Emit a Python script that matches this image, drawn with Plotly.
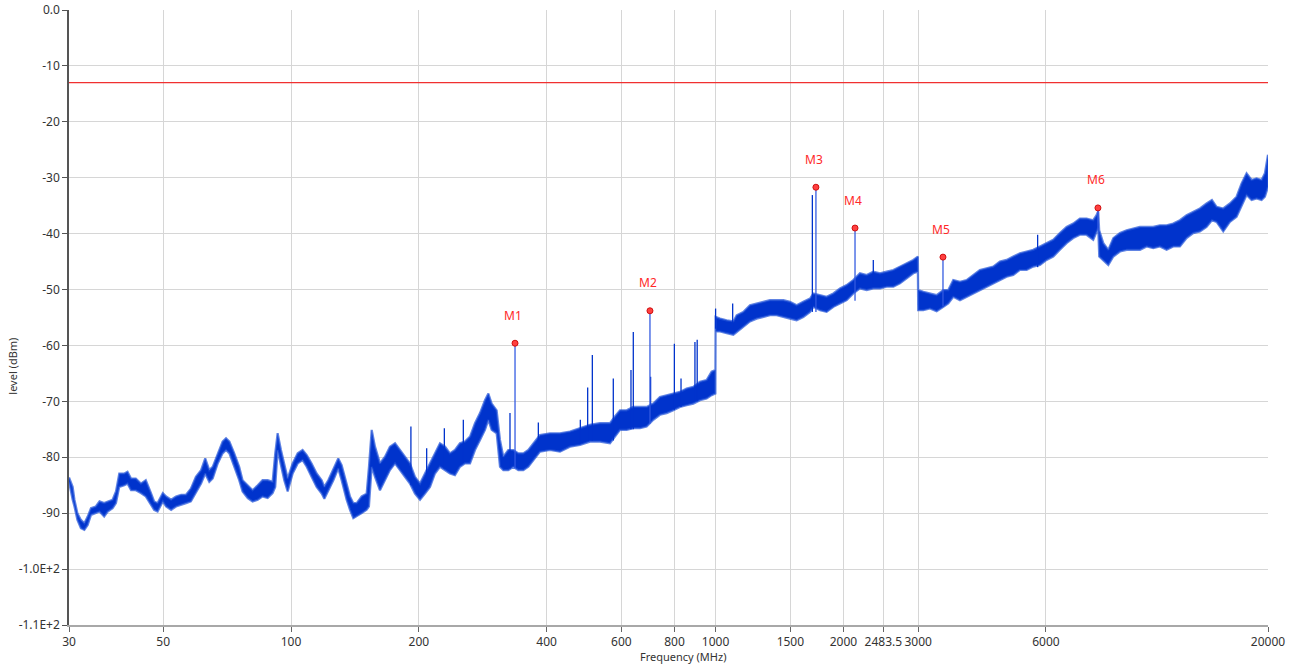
import math
import plotly.graph_objects as go

# ---------------- data ----------------
# noise-band envelope of the measured spectrum: frequency (MHz), top and bottom level (dBm)
freq_mhz = [
    30.0, 30.6, 30.9, 31.4, 32.0, 32.6, 33.2, 33.8, 34.7, 35.4, 36.3, 37.0, 38.0, 38.7, 39.4,
    40.5, 41.2, 42.0, 43.1, 44.3, 45.5, 46.8, 47.6, 48.5, 49.9, 50.8, 52.2, 53.6, 55.1, 56.6,
    58.1, 59.7, 61.4, 62.8, 64.2, 65.4, 67.2, 69.0, 70.3, 71.6, 73.5, 75.5, 76.9, 79.1, 81.2,
    83.5, 85.7, 88.1, 90.5, 91.8, 93.0, 94.7, 96.4, 98.2, 100.9, 103.7, 106.5,
    108.9, 111.8, 114.9, 118.1, 119.8, 122.4, 125.8, 129.2, 131.6, 135.2, 137.7, 140.2, 142.8,
    146.7, 150.7, 152.6, 154.9, 157.7, 162.0, 166.5, 171.0, 175.8, 180.6, 185.5, 190.6, 195.9,
    201.3, 206.8, 212.5, 218.3, 224.3, 230.5, 236.8, 243.3, 250.0, 256.9, 264.0, 271.2, 278.7,
    286.3, 291.6, 296.9, 305.0, 310.6, 316.3, 324.9, 333.9, 343.1, 352.5, 362.2,
    385.8, 407.3, 430.0, 454.0, 479.3, 506.0, 534.2, 563.9, 579.4, 595.4, 617.3, 640.0, 663.5,
    688.0, 713.4, 739.6, 766.8, 795.1, 824.3, 854.6, 886.1, 918.7, 952.5, 978.7, 999.0,
    1000, 1024, 1062, 1101, 1121, 1162, 1205, 1249, 1295, 1343, 1392, 1444, 1497, 1552, 1609,
    1669, 1699, 1762, 1826, 1894, 1963, 2036, 2110, 2188, 2269, 2352, 2439, 2529, 2622, 2718,
    2818, 2922, 2995,
    3000, 3085, 3198, 3316, 3438, 3532, 3629, 3763, 3901, 4045, 4193, 4348, 4508, 4674, 4846,
    5024, 5209, 5401, 5599, 5806, 6019, 6241, 6470, 6708, 6955, 7211, 7477, 7752, 7893, 7964,
    8008, 8187, 8412, 8644, 8962, 9291, 9633, 9987, 10355, 10735, 11130, 11540, 11964, 12404,
    12860, 13333, 13824, 14332, 14756, 15132, 15690, 16267, 16867, 17330, 17806, 18296, 18799,
    19316, 19668, 20000,
]
level_top = [
    -83.6, -85.3, -87.6, -90.0, -91.2, -91.8, -90.6, -89.1, -88.8, -87.9, -88.2, -87.9, -87.6, -86.1, -82.9,
    -82.9, -82.6, -83.8, -83.8, -84.7, -84.1, -86.4, -87.9, -88.2, -86.4, -87.0, -87.6, -87.0, -86.7, -86.7,
    -85.6, -83.5, -82.3, -80.2, -82.3, -81.7, -79.3, -77.2, -76.6, -77.2, -79.3, -81.7, -84.1, -85.0, -85.9,
    -85.0, -84.1, -84.1, -84.4, -79.3, -75.7, -78.7, -81.1, -83.8, -81.1, -79.3, -78.7,
    -79.6, -81.1, -82.9, -84.1, -85.3, -84.1, -82.0, -80.2, -81.4, -84.7, -87.0, -88.2, -88.2,
    -87.0, -86.5, -81.7, -75.1, -78.1, -81.1, -79.9, -78.1, -77.5, -78.7, -79.9, -81.1, -83.5,
    -84.7, -82.9, -81.1, -79.3, -77.5, -78.1, -79.3, -78.7, -77.5, -77.2, -76.3, -73.9, -72.1,
    -69.8, -68.6, -70.4, -71.6, -76.9, -79.9, -78.7, -78.7, -79.3, -79.3, -78.7,
    -76.0, -75.7, -75.7, -75.4, -74.8, -74.2, -73.9, -73.9, -72.7, -71.6, -71.6, -71.0, -71.0,
    -71.0, -70.4, -69.2, -68.9, -68.6, -68.3, -67.7, -67.4, -66.5, -66.2, -64.7, -64.4,
    -54.9, -55.2, -55.5, -55.7, -54.6, -54.0, -52.8, -52.5, -52.2, -51.9, -51.9, -51.9, -52.2, -52.8, -52.2,
    -51.6, -50.7, -51.0, -51.3, -50.7, -49.8, -49.2, -48.3, -47.1, -47.4, -46.8, -47.1, -46.8, -46.5, -45.9,
    -45.3, -44.7, -44.1,
    -50.1, -50.4, -50.7, -51.0, -50.1, -50.1, -48.3, -48.6, -48.3, -47.4, -46.5, -46.2, -45.9, -45.0, -44.7,
    -44.1, -43.5, -43.2, -42.9, -42.3, -41.7, -41.1, -39.9, -38.8, -38.2, -37.3, -37.3, -37.6, -36.7, -36.0,
    -39.4, -41.7, -42.9, -40.8, -39.9, -39.4, -39.1, -38.8, -38.8, -38.8, -38.5, -38.5, -38.2, -37.6,
    -36.7, -36.1, -35.5, -34.6, -34.0, -35.2, -35.5, -34.6, -33.4, -31.0, -29.2, -30.4, -30.1,
    -30.4, -29.2, -25.9,
]
level_bottom = [
    -84.4, -87.6, -88.8, -91.2, -92.7, -93.0, -92.1, -90.3, -90.0, -89.7, -90.6, -89.7, -89.1, -88.2, -85.3,
    -85.0, -84.7, -85.9, -85.9, -86.4, -87.0, -88.5, -89.4, -89.7, -87.9, -88.8, -89.4, -88.8, -88.5, -88.2,
    -87.9, -86.4, -84.7, -82.9, -84.4, -83.8, -81.1, -79.3, -78.7, -79.3, -81.7, -84.1, -86.1, -87.3, -87.9,
    -87.6, -87.0, -87.3, -86.4, -85.3, -78.7, -81.1, -84.1, -86.1, -82.9, -81.1, -80.5,
    -81.7, -83.5, -85.3, -86.5, -87.4, -85.9, -84.1, -82.0, -84.1, -87.6, -89.4, -90.9, -90.6,
    -90.0, -89.4, -88.8, -81.7, -83.5, -85.9, -84.1, -82.3, -81.1, -82.3, -83.5, -84.7, -86.5,
    -87.6, -86.5, -85.3, -82.9, -81.7, -82.3, -82.9, -83.2, -81.7, -81.1, -81.1, -78.7, -76.9,
    -75.1, -73.3, -75.1, -75.7, -81.7, -82.3, -82.3, -81.7, -82.3, -82.3, -81.7,
    -79.0, -78.7, -79.0, -78.1, -77.8, -77.2, -77.2, -77.5, -76.3, -75.1, -75.1, -74.8, -74.8,
    -74.5, -73.3, -72.4, -72.1, -71.6, -71.0, -70.7, -70.4, -69.8, -69.5, -68.9, -68.6,
    -57.5, -57.5, -57.8, -58.1, -57.5, -56.6, -55.7, -55.2, -54.9, -54.6, -54.6, -54.9, -55.2, -55.5, -54.9,
    -54.0, -53.1, -53.7, -54.0, -53.1, -52.5, -51.9, -50.7, -49.8, -50.1, -49.8, -49.8, -49.5, -49.5, -48.9,
    -48.0, -47.1, -46.8,
    -53.7, -53.7, -53.4, -53.9, -53.1, -52.5, -51.3, -51.9, -51.3, -50.7, -50.1, -49.5, -48.9, -48.3, -47.7,
    -47.4, -46.5, -46.5, -45.9, -45.6, -44.7, -44.1, -42.9, -41.7, -40.8, -40.2, -40.2, -41.1, -39.7, -39.0,
    -44.1, -44.7, -45.6, -44.1, -43.2, -42.9, -42.9, -42.9, -42.3, -42.6, -42.3, -42.9, -42.3, -42.3,
    -40.8, -39.9, -39.6, -38.8, -37.6, -37.9, -39.6, -37.9, -37.0, -34.9, -33.1, -34.0, -33.7,
    -34.0, -33.4, -31.6,
]

# narrow spurious spikes: frequency (MHz), peak level, level of the noise floor below
spike_freq = [191.6, 208.7, 229.7, 254.6, 327.9, 382.4, 480.2, 499.7, 512.5, 574.2, 632.0, 640.0,
              703.0, 799.6, 829.0, 894.0, 905.0, 1000.0, 1097.0, 1690.0, 2352.0, 5734.0]
spike_peak = [-74.5, -78.4, -74.8, -73.3, -72.1, -73.8, -73.3, -67.5, -61.7, -65.9, -64.4, -57.6,
              -65.6, -59.7, -65.9, -59.4, -59.0, -53.4, -52.5, -33.1, -44.7, -40.2]
spike_floor = [-85.0, -85.0, -82.0, -81.0, -82.0, -78.0, -77.5, -77.0, -77.0, -77.0, -75.0, -75.0,
               -73.5, -71.5, -71.0, -70.0, -70.0, -57.0, -57.0, -54.0, -49.0, -46.0]

# markers
marker_names = ["M1", "M2", "M3", "M4", "M5", "M6"]
marker_freq = [337.0, 700.5, 1723.0, 2130.0, 3432.0, 7953.0]
marker_level = [-59.6, -53.8, -31.7, -39.0, -44.2, -35.4]
marker_floor = [-82.0, -74.0, -54.0, -52.0, -53.0, -39.5]

# limit line
limit_level = -13.0
freq_range = [30, 20000]

# axes ticks
x_tickvals = [30, 50, 100, 200, 400, 600, 800, 1000, 1500, 2000, 2483.5, 3000, 6000, 20000]
x_ticktext = ["30", "50", "100", "200", "400", "600", "800", "1000", "1500", "2000", "2483.5",
              "3000", "6000", "20000"]
y_tickvals = [0, -10, -20, -30, -40, -50, -60, -70, -80, -90, -100, -110]
y_ticktext = ["0.0", "-10", "-20", "-30", "-40", "-50", "-60", "-70", "-80", "-90",
              "-1.0E+2", "-1.1E+2"]

# ---------------- figure ----------------
BLUE = "#0033CC"
FONT = "Segoe UI, Noto Sans, Open Sans, sans-serif"

fig = go.Figure()

# noise band polygon
fig.add_trace(go.Scatter(
    x=freq_mhz + freq_mhz[::-1],
    y=level_top + level_bottom[::-1],
    mode="lines", fill="toself", fillcolor=BLUE,
    line=dict(color="rgba(30,80,215,0.7)", width=2.2),
    hoverinfo="skip", showlegend=False,
))

# spikes
sx, sy = [], []
for f, p, b in zip(spike_freq, spike_peak, spike_floor):
    sx += [f, f, None]
    sy += [b, p, None]
fig.add_trace(go.Scatter(x=sx, y=sy, mode="lines",
                         line=dict(color=BLUE, width=1.3),
                         hoverinfo="skip", showlegend=False))

# marker stems (lighter)
mx, my = [], []
for f, p, b in zip(marker_freq, marker_level, marker_floor):
    mx += [f, f, None]
    my += [b, p, None]
fig.add_trace(go.Scatter(x=mx, y=my, mode="lines",
                         line=dict(color="rgba(50,90,225,0.8)", width=1.6),
                         hoverinfo="skip", showlegend=False))

# limit line
fig.add_trace(go.Scatter(x=freq_range, y=[limit_level, limit_level], mode="lines",
                         line=dict(color="#F03030", width=1.2),
                         hoverinfo="skip", showlegend=False))

# marker points with labels
fig.add_trace(go.Scatter(
    x=marker_freq, y=marker_level, mode="markers",
    marker=dict(size=6, color="#FF4040", line=dict(color="#D01010", width=1)),
    showlegend=False,
))
for name, f, lv in zip(marker_names, marker_freq, marker_level):
    # annotation x on a log axis is given in log10 units
    fig.add_annotation(x=math.log10(f), y=lv, text=name, showarrow=False, yshift=28, xshift=-2,
                       font=dict(family=FONT, size=12, color="#FF2828"))

# axis titles
fig.add_annotation(xref="paper", yref="paper", x=0.512, y=-0.052, text="Frequency (MHz)",
                   showarrow=False, yanchor="middle",
                   font=dict(family=FONT, size=11, color="#333333"))
fig.add_annotation(xref="paper", yref="paper", x=-0.0467, y=0.42, text="level (dBm)",
                   showarrow=False, textangle=-90, xanchor="center", yanchor="middle",
                   font=dict(family=FONT, size=11, color="#333333"))

fig.update_layout(
    width=1292, height=668, autosize=False,
    margin=dict(l=69, r=24, t=10, b=43),
    paper_bgcolor="white", plot_bgcolor="white",
    font=dict(family=FONT, size=12, color="#333333"),
    showlegend=False,
)
fig.update_xaxes(
    type="log", range=[math.log10(freq_range[0]), math.log10(freq_range[1])],
    tickvals=x_tickvals, ticktext=x_ticktext, tickangle=0,
    showgrid=True, gridcolor="#D6D6D6", gridwidth=1,
    showline=True, linecolor="#A8A8A8", linewidth=1.5,
    ticks="outside", ticklen=5, tickcolor="#666666",
    tickfont=dict(family=FONT, size=12, color="#333333"),
    zeroline=False, automargin=False,
)
fig.update_yaxes(
    range=[-110, 0],
    tickvals=y_tickvals, ticktext=y_ticktext,
    showgrid=True, gridcolor="#D6D6D6", gridwidth=1,
    showline=True, linecolor="#555555", linewidth=1.5,
    ticks="outside", ticklen=5, tickcolor="#555555",
    tickfont=dict(family=FONT, size=12, color="#333333"),
    zeroline=False, automargin=False,
)

# the page body has a default 8px margin; remove it so the figure sits at the window origin
fig.write_html("out.html", config={"displayModeBar": False},
               post_script="document.body.style.margin='0';document.body.style.overflow='hidden';")
